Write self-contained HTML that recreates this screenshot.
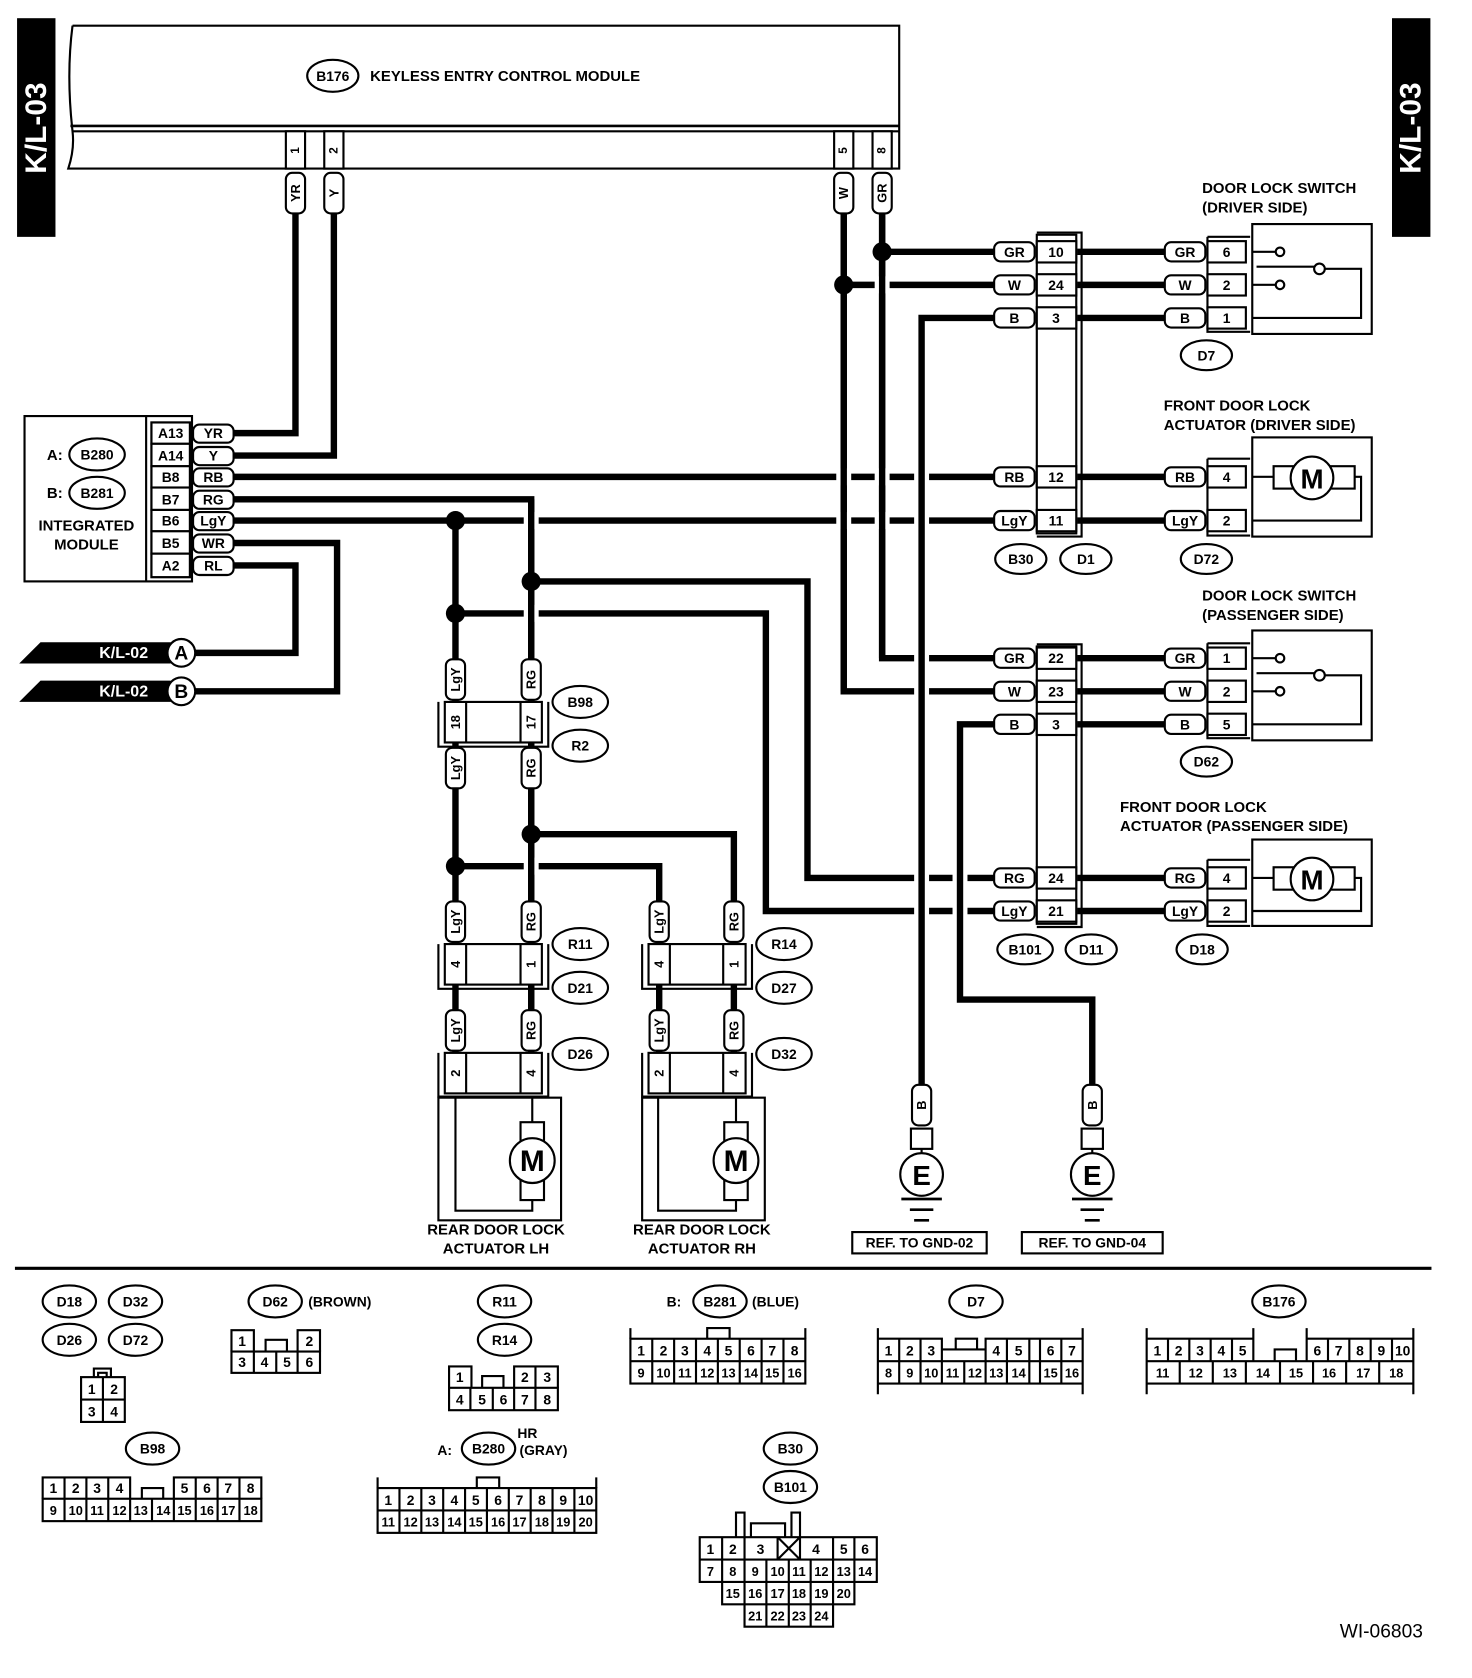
<!DOCTYPE html>
<html><head><meta charset="utf-8"><style>
html,body{margin:0;padding:0;background:#fff}
svg{display:block}
text{font-family:"Liberation Sans",Arial,sans-serif;font-weight:bold;fill:#000}
.w{stroke:#000;stroke-width:6;fill:none;stroke-linejoin:miter;stroke-linecap:butt}
.o{stroke:#000;stroke-width:2;fill:#fff}
.n{stroke:#000;stroke-width:2;fill:none}
.c{text-anchor:middle;dominant-baseline:central}
</style></head><body>
<svg width="1472" height="1678" viewBox="0 0 1380 1573" xmlns="http://www.w3.org/2000/svg">
<rect x="16" y="17" width="36" height="205" fill="#000"/>
<text class="c" transform="translate(34,120) rotate(-90)" font-size="28" style="fill:#fff">K/L-03</text>
<rect x="1305" y="17" width="36" height="205" fill="#000"/>
<text class="c" transform="translate(1323,120) rotate(-90)" font-size="28" style="fill:#fff">K/L-03</text>

<path class="n" d="M68 24 H843 V158 H64 Q70 140 68 123 Q62 70 68 24" stroke-width="2.5"/>
<line x1="66" y1="118" x2="843" y2="118" stroke="#000" stroke-width="2.5"/>
<line x1="68" y1="123" x2="843" y2="123" stroke="#000" stroke-width="2"/>
<rect class="o" x="268" y="123" width="18" height="35"/><text class="c" font-size="11" transform="translate(277,141) rotate(-90)">1</text>
<rect class="o" x="304" y="123" width="18" height="35"/><text class="c" font-size="11" transform="translate(313,141) rotate(-90)">2</text>
<rect class="o" x="782" y="123" width="18" height="35"/><text class="c" font-size="11" transform="translate(791,141) rotate(-90)">5</text>
<rect class="o" x="818" y="123" width="18" height="35"/><text class="c" font-size="11" transform="translate(827,141) rotate(-90)">8</text>
<ellipse class="o" cx="312" cy="71" rx="24" ry="15"/><text class="c" x="312" y="71" font-size="13">B176</text>
<text x="347" y="76" font-size="14">KEYLESS ENTRY CONTROL MODULE</text>

<rect class="n" x="23" y="390" width="157" height="155" stroke-width="2.5"/>
<line x1="137" y1="390" x2="137" y2="545" stroke="#000" stroke-width="2"/>
<rect class="n" x="142" y="396" width="36" height="145"/>
<ellipse class="o" cx="91" cy="426" rx="26" ry="15"/><text class="c" x="91" y="426" font-size="13">B280</text>
<text x="44" y="431" font-size="14">A:</text>
<ellipse class="o" cx="91" cy="462" rx="26" ry="15"/><text class="c" x="91" y="462" font-size="13">B281</text>
<text x="44" y="467" font-size="14">B:</text>
<text class="c" x="81" y="493" font-size="14">INTEGRATED</text>
<text class="c" x="81" y="511" font-size="14">MODULE</text>

<polygon points="38,602 160,602 160,622 18,622" fill="#000"/>
<text x="93" y="617" font-size="15" style="fill:#fff">K/L-02</text>
<circle class="o" cx="170" cy="612" r="13" stroke-width="2.5"/><text class="c" x="170" y="613" font-size="18">A</text>
<polygon points="38,638 160,638 160,658 18,658" fill="#000"/>
<text x="93" y="653" font-size="15" style="fill:#fff">K/L-02</text>
<circle class="o" cx="170" cy="648" r="13" stroke-width="2.5"/><text class="c" x="170" y="649" font-size="18">B</text>

<path class="w" d="M277 200 V406 H218"/>
<path class="w" d="M313 200 V427 H218"/>
<path class="w" d="M218 447 H932"/>
<path class="w" d="M218 468 H498 V1000"/>
<path class="w" d="M218 488 H932"/>
<path class="w" d="M218 509 H316 V648 H183"/>
<path class="w" d="M218 530 H277 V612 H183"/>
<path class="w" d="M498 545 H757 V823 H932"/>
<path class="w" d="M427 575 H718 V854 H932"/>
<path class="w" d="M827 236 H932"/>
<path class="w" d="M791 267 H932"/>
<path class="w" d="M827 200 V617 H932"/>
<path class="w" d="M791 200 V648 H932"/>
<path class="w" d="M498 782 H688 V1000"/>
<path class="w" d="M427 812 H618 V1000"/>
<path class="w" d="M1010 236 H1092 M1010 267 H1092 M1010 298 H1092 M1010 447 H1092 M1010 488 H1092"/>
<path class="w" d="M1010 617 H1092 M1010 648 H1092 M1010 679 H1092 M1010 823 H1092 M1010 854 H1092"/>
<g fill="#fff">
<rect x="491" y="480" width="14" height="16"/>
<rect x="784" y="439" width="14" height="16"/><rect x="820" y="439" width="14" height="16"/><rect x="857" y="439" width="14" height="16"/>
<rect x="784" y="480" width="14" height="16"/><rect x="820" y="480" width="14" height="16"/><rect x="857" y="480" width="14" height="16"/>
<rect x="491" y="567" width="14" height="16"/>
<rect x="491" y="804" width="14" height="16"/>
<rect x="820" y="259" width="14" height="16"/>
<rect x="857" y="609" width="14" height="16"/><rect x="857" y="640" width="14" height="16"/>
<rect x="857" y="815" width="14" height="16"/><rect x="893" y="815" width="14" height="16"/>
<rect x="857" y="846" width="14" height="16"/><rect x="893" y="846" width="14" height="16"/>
</g>
<path class="w" d="M427 488 V1000"/>
<path class="w" d="M498 468 V1000"/>
<path class="w" d="M791 200 V648"/>
<path class="w" d="M827 200 V617"/>
<path class="w" d="M932 298 H864 V1020"/>
<path class="w" d="M932 679 H900 V937 H1024 V1020"/>
<g fill="#000">
<circle cx="827" cy="236" r="9"/><circle cx="791" cy="267" r="9"/>
<circle cx="427" cy="488" r="9"/><circle cx="498" cy="545" r="9"/><circle cx="427" cy="575" r="9"/>
<circle cx="498" cy="782" r="9"/><circle cx="427" cy="812" r="9"/>
</g>

<g font-size="12">
<rect class="o" x="268" y="162" width="18" height="38" rx="6"/><text class="c" transform="translate(277,181) rotate(-90)">YR</text>
<rect class="o" x="304" y="162" width="18" height="38" rx="6"/><text class="c" transform="translate(313,181) rotate(-90)">Y</text>
<rect class="o" x="782" y="162" width="18" height="38" rx="6"/><text class="c" transform="translate(791,181) rotate(-90)">W</text>
<rect class="o" x="818" y="162" width="18" height="38" rx="6"/><text class="c" transform="translate(827,181) rotate(-90)">GR</text>
</g>

<g font-size="13">
<rect class="o" x="142" y="396" width="36" height="20"/><text class="c" x="160" y="406">A13</text>
<rect class="o" x="142" y="416" width="36" height="21"/><text class="c" x="160" y="427">A14</text>
<rect class="o" x="142" y="437" width="36" height="20"/><text class="c" x="160" y="447">B8</text>
<rect class="o" x="142" y="457" width="36" height="21"/><text class="c" x="160" y="468">B7</text>
<rect class="o" x="142" y="478" width="36" height="20"/><text class="c" x="160" y="488">B6</text>
<rect class="o" x="142" y="498" width="36" height="21"/><text class="c" x="160" y="509">B5</text>
<rect class="o" x="142" y="519" width="36" height="22"/><text class="c" x="160" y="530">A2</text>
<rect class="o" x="181" y="398" width="38" height="17" rx="6"/><text class="c" x="200" y="406">YR</text>
<rect class="o" x="181" y="419" width="38" height="17" rx="6"/><text class="c" x="200" y="427">Y</text>
<rect class="o" x="181" y="439" width="38" height="17" rx="6"/><text class="c" x="200" y="447">RB</text>
<rect class="o" x="181" y="460" width="38" height="17" rx="6"/><text class="c" x="200" y="468">RG</text>
<rect class="o" x="181" y="480" width="38" height="17" rx="6"/><text class="c" x="200" y="488">LgY</text>
<rect class="o" x="181" y="501" width="38" height="17" rx="6"/><text class="c" x="200" y="509">WR</text>
<rect class="o" x="181" y="522" width="38" height="17" rx="6"/><text class="c" x="200" y="530">RL</text>
</g>

<rect class="o" x="972" y="220" width="37" height="280"/>
<path class="n" d="M972 218 H1014 V503 H972"/>
<g font-size="13">
<rect class="o" x="972" y="226" width="37" height="20"/><text class="c" x="990" y="236">10</text>
<rect class="o" x="972" y="257" width="37" height="20"/><text class="c" x="990" y="267">24</text>
<rect class="o" x="972" y="288" width="37" height="20"/><text class="c" x="990" y="298">3</text>
<rect class="o" x="972" y="437" width="37" height="20"/><text class="c" x="990" y="447">12</text>
<rect class="o" x="972" y="478" width="37" height="20"/><text class="c" x="990" y="488">11</text>
<rect class="o" x="932" y="227" width="38" height="18" rx="6"/><text class="c" x="951" y="236">GR</text>
<rect class="o" x="932" y="258" width="38" height="18" rx="6"/><text class="c" x="951" y="267">W</text>
<rect class="o" x="932" y="289" width="38" height="18" rx="6"/><text class="c" x="951" y="298">B</text>
<rect class="o" x="932" y="438" width="38" height="18" rx="6"/><text class="c" x="951" y="447">RB</text>
<rect class="o" x="932" y="479" width="38" height="18" rx="6"/><text class="c" x="951" y="488">LgY</text>
<ellipse class="o" cx="957" cy="524" rx="24" ry="14"/><text class="c" x="957" y="524">B30</text>
<ellipse class="o" cx="1018" cy="524" rx="24" ry="14"/><text class="c" x="1018" y="524">D1</text>
</g>

<rect class="o" x="972" y="606" width="37" height="260"/>
<path class="n" d="M972 604 H1014 V869 H972"/>
<g font-size="13">
<rect class="o" x="972" y="607" width="37" height="20"/><text class="c" x="990" y="617">22</text>
<rect class="o" x="972" y="638" width="37" height="20"/><text class="c" x="990" y="648">23</text>
<rect class="o" x="972" y="669" width="37" height="20"/><text class="c" x="990" y="679">3</text>
<rect class="o" x="972" y="813" width="37" height="20"/><text class="c" x="990" y="823">24</text>
<rect class="o" x="972" y="844" width="37" height="20"/><text class="c" x="990" y="854">21</text>
<rect class="o" x="932" y="608" width="38" height="18" rx="6"/><text class="c" x="951" y="617">GR</text>
<rect class="o" x="932" y="639" width="38" height="18" rx="6"/><text class="c" x="951" y="648">W</text>
<rect class="o" x="932" y="670" width="38" height="18" rx="6"/><text class="c" x="951" y="679">B</text>
<rect class="o" x="932" y="814" width="38" height="18" rx="6"/><text class="c" x="951" y="823">RG</text>
<rect class="o" x="932" y="845" width="38" height="18" rx="6"/><text class="c" x="951" y="854">LgY</text>
<ellipse class="o" cx="961" cy="890" rx="26" ry="14"/><text class="c" x="961" y="890">B101</text>
<ellipse class="o" cx="1023" cy="890" rx="24" ry="14"/><text class="c" x="1023" y="890">D11</text>
</g>

<g font-size="13">
<path class="n" d="M1132 222 V311 H1172 M1132 222 H1172"/>
<rect class="o" x="1132" y="226" width="36" height="20"/><text class="c" x="1150" y="236">6</text>
<rect class="o" x="1132" y="257" width="36" height="20"/><text class="c" x="1150" y="267">2</text>
<rect class="o" x="1132" y="288" width="36" height="20"/><text class="c" x="1150" y="298">1</text>
<rect class="o" x="1092" y="227" width="38" height="18" rx="6"/><text class="c" x="1111" y="236">GR</text>
<rect class="o" x="1092" y="258" width="38" height="18" rx="6"/><text class="c" x="1111" y="267">W</text>
<rect class="o" x="1092" y="289" width="38" height="18" rx="6"/><text class="c" x="1111" y="298">B</text>
<rect class="n" x="1174" y="210" width="112" height="103"/>
<path class="n" d="M1174 236 H1196 M1174 267 H1196 M1178 250 H1232 M1242 252 H1276 V298 H1174"/>
<circle class="o" cx="1200" cy="236" r="4"/><circle class="o" cx="1200" cy="267" r="4"/><circle class="o" cx="1237" cy="252" r="5"/>
<ellipse class="o" cx="1131" cy="333" rx="24" ry="14"/><text class="c" x="1131" y="333">D7</text>
<text x="1127" y="181" font-size="14">DOOR LOCK SWITCH</text>
<text x="1127" y="199" font-size="14">(DRIVER SIDE)</text>

<path class="n" d="M1132 430 V502 H1172 M1132 430 H1172"/>
<rect class="o" x="1132" y="437" width="36" height="20"/><text class="c" x="1150" y="447">4</text>
<rect class="o" x="1132" y="478" width="36" height="20"/><text class="c" x="1150" y="488">2</text>
<rect class="o" x="1092" y="438" width="38" height="18" rx="6"/><text class="c" x="1111" y="447">RB</text>
<rect class="o" x="1092" y="479" width="38" height="18" rx="6"/><text class="c" x="1111" y="488">LgY</text>
<rect class="n" x="1174" y="410" width="112" height="93"/>
<path class="n" d="M1174 447 H1194 M1270 447 H1276 V488 H1174"/>
<rect class="o" x="1194" y="437" width="76" height="21"/>
<circle class="o" cx="1230" cy="448" r="20" stroke-width="2.5"/><text class="c" x="1230" y="449" font-size="26">M</text>
<ellipse class="o" cx="1131" cy="524" rx="24" ry="14"/><text class="c" x="1131" y="524">D72</text>
<text x="1091" y="385" font-size="14">FRONT DOOR LOCK</text>
<text x="1091" y="403" font-size="14">ACTUATOR (DRIVER SIDE)</text>

<path class="n" d="M1132 603 V692 H1172 M1132 603 H1172"/>
<rect class="o" x="1132" y="607" width="36" height="20"/><text class="c" x="1150" y="617">1</text>
<rect class="o" x="1132" y="638" width="36" height="20"/><text class="c" x="1150" y="648">2</text>
<rect class="o" x="1132" y="669" width="36" height="20"/><text class="c" x="1150" y="679">5</text>
<rect class="o" x="1092" y="608" width="38" height="18" rx="6"/><text class="c" x="1111" y="617">GR</text>
<rect class="o" x="1092" y="639" width="38" height="18" rx="6"/><text class="c" x="1111" y="648">W</text>
<rect class="o" x="1092" y="670" width="38" height="18" rx="6"/><text class="c" x="1111" y="679">B</text>
<rect class="n" x="1174" y="591" width="112" height="103"/>
<path class="n" d="M1174 617 H1196 M1174 648 H1196 M1178 631 H1232 M1242 633 H1276 V679 H1174"/>
<circle class="o" cx="1200" cy="617" r="4"/><circle class="o" cx="1200" cy="648" r="4"/><circle class="o" cx="1237" cy="633" r="5"/>
<ellipse class="o" cx="1131" cy="714" rx="24" ry="14"/><text class="c" x="1131" y="714">D62</text>
<text x="1127" y="563" font-size="14">DOOR LOCK SWITCH</text>
<text x="1127" y="581" font-size="14">(PASSENGER SIDE)</text>

<path class="n" d="M1132 806 V868 H1172 M1132 806 H1172"/>
<rect class="o" x="1132" y="813" width="36" height="20"/><text class="c" x="1150" y="823">4</text>
<rect class="o" x="1132" y="844" width="36" height="20"/><text class="c" x="1150" y="854">2</text>
<rect class="o" x="1092" y="814" width="38" height="18" rx="6"/><text class="c" x="1111" y="823">RG</text>
<rect class="o" x="1092" y="845" width="38" height="18" rx="6"/><text class="c" x="1111" y="854">LgY</text>
<rect class="n" x="1174" y="787" width="112" height="81"/>
<path class="n" d="M1174 823 H1194 M1270 823 H1276 V854 H1174"/>
<rect class="o" x="1194" y="813" width="76" height="21"/>
<circle class="o" cx="1230" cy="824" r="20" stroke-width="2.5"/><text class="c" x="1230" y="825" font-size="26">M</text>
<ellipse class="o" cx="1127" cy="890" rx="24" ry="14"/><text class="c" x="1127" y="890">D18</text>
<text x="1050" y="761" font-size="14">FRONT DOOR LOCK</text>
<text x="1050" y="779" font-size="14">ACTUATOR (PASSENGER SIDE)</text>
</g>

<g font-size="12">
<path class="n" d="M411 658 V700 H514 V658"/>
<rect class="o" x="417" y="658" width="91" height="38"/>
<line x1="437" y1="658" x2="437" y2="696" stroke="#000" stroke-width="2"/><line x1="488" y1="658" x2="488" y2="696" stroke="#000" stroke-width="2"/>
<text class="c" transform="translate(427,677) rotate(-90)">18</text><text class="c" transform="translate(498,677) rotate(-90)">17</text>
<rect class="o" x="418" y="618" width="18" height="38" rx="6"/><text class="c" transform="translate(427,637) rotate(-90)">LgY</text>
<rect class="o" x="489" y="618" width="18" height="38" rx="6"/><text class="c" transform="translate(498,637) rotate(-90)">RG</text>
<rect class="o" x="418" y="701" width="18" height="38" rx="6"/><text class="c" transform="translate(427,720) rotate(-90)">LgY</text>
<rect class="o" x="489" y="701" width="18" height="38" rx="6"/><text class="c" transform="translate(498,720) rotate(-90)">RG</text>
<path class="n" d="M411 885 V927 H514 V885"/>
<rect class="o" x="417" y="885" width="91" height="38"/>
<line x1="437" y1="885" x2="437" y2="923" stroke="#000" stroke-width="2"/><line x1="488" y1="885" x2="488" y2="923" stroke="#000" stroke-width="2"/>
<text class="c" transform="translate(427,904) rotate(-90)">4</text><text class="c" transform="translate(498,904) rotate(-90)">1</text>
<rect class="o" x="418" y="845" width="18" height="38" rx="6"/><text class="c" transform="translate(427,864) rotate(-90)">LgY</text>
<rect class="o" x="489" y="845" width="18" height="38" rx="6"/><text class="c" transform="translate(498,864) rotate(-90)">RG</text>
<rect class="o" x="418" y="947" width="18" height="38" rx="6"/><text class="c" transform="translate(427,966) rotate(-90)">LgY</text>
<rect class="o" x="489" y="947" width="18" height="38" rx="6"/><text class="c" transform="translate(498,966) rotate(-90)">RG</text>
<path class="n" d="M411 987 V1028 H514 V987"/>
<rect class="o" x="417" y="987" width="91" height="38"/>
<line x1="437" y1="987" x2="437" y2="1025" stroke="#000" stroke-width="2"/><line x1="488" y1="987" x2="488" y2="1025" stroke="#000" stroke-width="2"/>
<text class="c" transform="translate(427,1006) rotate(-90)">2</text><text class="c" transform="translate(498,1006) rotate(-90)">4</text>
<path class="n" d="M602 885 V927 H705 V885"/>
<rect class="o" x="608" y="885" width="91" height="38"/>
<line x1="628" y1="885" x2="628" y2="923" stroke="#000" stroke-width="2"/><line x1="678" y1="885" x2="678" y2="923" stroke="#000" stroke-width="2"/>
<text class="c" transform="translate(618,904) rotate(-90)">4</text><text class="c" transform="translate(688,904) rotate(-90)">1</text>
<rect class="o" x="609" y="845" width="18" height="38" rx="6"/><text class="c" transform="translate(618,864) rotate(-90)">LgY</text>
<rect class="o" x="679" y="845" width="18" height="38" rx="6"/><text class="c" transform="translate(688,864) rotate(-90)">RG</text>
<rect class="o" x="609" y="947" width="18" height="38" rx="6"/><text class="c" transform="translate(618,966) rotate(-90)">LgY</text>
<rect class="o" x="679" y="947" width="18" height="38" rx="6"/><text class="c" transform="translate(688,966) rotate(-90)">RG</text>
<path class="n" d="M602 987 V1028 H705 V987"/>
<rect class="o" x="608" y="987" width="91" height="38"/>
<line x1="628" y1="987" x2="628" y2="1025" stroke="#000" stroke-width="2"/><line x1="678" y1="987" x2="678" y2="1025" stroke="#000" stroke-width="2"/>
<text class="c" transform="translate(618,1006) rotate(-90)">2</text><text class="c" transform="translate(688,1006) rotate(-90)">4</text>
</g>
<g font-size="13">
<ellipse class="o" cx="544" cy="658" rx="26" ry="15"/><text class="c" x="544" y="658">B98</text>
<ellipse class="o" cx="544" cy="699" rx="26" ry="15"/><text class="c" x="544" y="699">R2</text>
<ellipse class="o" cx="544" cy="885" rx="26" ry="15"/><text class="c" x="544" y="885">R11</text>
<ellipse class="o" cx="544" cy="926" rx="26" ry="15"/><text class="c" x="544" y="926">D21</text>
<ellipse class="o" cx="544" cy="988" rx="26" ry="15"/><text class="c" x="544" y="988">D26</text>
<ellipse class="o" cx="735" cy="885" rx="26" ry="15"/><text class="c" x="735" y="885">R14</text>
<ellipse class="o" cx="735" cy="926" rx="26" ry="15"/><text class="c" x="735" y="926">D27</text>
<ellipse class="o" cx="735" cy="988" rx="26" ry="15"/><text class="c" x="735" y="988">D32</text>
</g>
<rect class="n" x="411" y="1029" width="115" height="115"/>
<path class="n" d="M427 1029 V1135 H499 V1125 M499 1052 V1029"/>
<rect class="o" x="488" y="1052" width="22" height="73"/>
<circle class="o" cx="499" cy="1088" r="21" stroke-width="2.5"/><text class="c" x="499" y="1089" font-size="28">M</text>
<rect class="n" x="602" y="1029" width="115" height="115"/>
<path class="n" d="M617 1029 V1135 H690 V1125 M690 1052 V1029"/>
<rect class="o" x="679" y="1052" width="22" height="73"/>
<circle class="o" cx="690" cy="1088" r="21" stroke-width="2.5"/><text class="c" x="690" y="1089" font-size="28">M</text>
<text class="c" x="465" y="1153" font-size="14">REAR DOOR LOCK</text>
<text class="c" x="465" y="1171" font-size="14">ACTUATOR LH</text>
<text class="c" x="658" y="1153" font-size="14">REAR DOOR LOCK</text>
<text class="c" x="658" y="1171" font-size="14">ACTUATOR RH</text>

<g>
<rect class="o" x="855" y="1017" width="18" height="38" rx="6"/><text class="c" font-size="12" transform="translate(864,1036) rotate(-90)">B</text>
<rect class="o" x="854" y="1058" width="20" height="19"/>
<path class="n" d="M864 1077 V1082"/>
<circle class="o" cx="864" cy="1101" r="20" stroke-width="2.5"/><text class="c" x="864" y="1102" font-size="26">E</text>
<path d="M845 1124 H883 M853 1134 H875 M857 1144 H871" stroke="#000" stroke-width="2.5"/>
<rect class="n" x="799" y="1155" width="126" height="20"/><text class="c" x="862" y="1165" font-size="13">REF. TO GND-02</text>
<rect class="o" x="1015" y="1017" width="18" height="38" rx="6"/><text class="c" font-size="12" transform="translate(1024,1036) rotate(-90)">B</text>
<rect class="o" x="1014" y="1058" width="20" height="19"/>
<path class="n" d="M1024 1077 V1082"/>
<circle class="o" cx="1024" cy="1101" r="20" stroke-width="2.5"/><text class="c" x="1024" y="1102" font-size="26">E</text>
<path d="M1005 1124 H1043 M1013 1134 H1035 M1017 1144 H1031" stroke="#000" stroke-width="2.5"/>
<rect class="n" x="958" y="1155" width="132" height="20"/><text class="c" x="1024" y="1165" font-size="13">REF. TO GND-04</text>
</g>

<line x1="14" y1="1189" x2="1342" y2="1189" stroke="#000" stroke-width="3"/>

<g font-size="13">
<ellipse class="o" cx="65" cy="1220" rx="25" ry="15"/><text class="c" x="65" y="1220">D18</text>
<ellipse class="o" cx="127" cy="1220" rx="25" ry="15"/><text class="c" x="127" y="1220">D32</text>
<ellipse class="o" cx="65" cy="1256" rx="25" ry="15"/><text class="c" x="65" y="1256">D26</text>
<ellipse class="o" cx="127" cy="1256" rx="25" ry="15"/><text class="c" x="127" y="1256">D72</text>
<ellipse class="o" cx="258" cy="1220" rx="25" ry="15"/><text class="c" x="258" y="1220">D62</text>
<text x="289" y="1225">(BROWN)</text>
<ellipse class="o" cx="473" cy="1220" rx="25" ry="15"/><text class="c" x="473" y="1220">R11</text>
<ellipse class="o" cx="473" cy="1256" rx="25" ry="15"/><text class="c" x="473" y="1256">R14</text>
<text x="625" y="1225">B:</text>
<ellipse class="o" cx="675" cy="1220" rx="25" ry="15"/><text class="c" x="675" y="1220">B281</text>
<text x="705" y="1225">(BLUE)</text>
<ellipse class="o" cx="915" cy="1220" rx="25" ry="15"/><text class="c" x="915" y="1220">D7</text>
<ellipse class="o" cx="1199" cy="1220" rx="25" ry="15"/><text class="c" x="1199" y="1220">B176</text>
<ellipse class="o" cx="143" cy="1358" rx="25" ry="15"/><text class="c" x="143" y="1358">B98</text>
<text x="410" y="1364">A:</text>
<ellipse class="o" cx="458" cy="1358" rx="25" ry="15"/><text class="c" x="458" y="1358">B280</text>
<text x="485" y="1348">HR</text>
<text x="487" y="1364">(GRAY)</text>
<ellipse class="o" cx="741" cy="1358" rx="25" ry="15"/><text class="c" x="741" y="1358">B30</text>
<ellipse class="o" cx="741" cy="1394" rx="25" ry="15"/><text class="c" x="741" y="1394">B101</text>
</g>

<g font-size="13" style="font-weight:normal">
<path class="n" d="M88 1291 V1283 H104 V1291 M92 1291 V1287 H100 V1291" stroke-width="1.5"/>
<rect class="n" x="76" y="1291" width="41" height="42" stroke-width="1.5"/>
<path class="n" d="M96.5 1291 V1333 M76 1312 H117" stroke-width="1.5"/>
<text class="c" x="86" y="1302">1</text><text class="c" x="107" y="1302">2</text><text class="c" x="86" y="1323">3</text><text class="c" x="107" y="1323">4</text>

<path class="n" d="M217 1267 V1247 H238 V1267 M279 1267 V1247 H300 V1267 M249 1267 V1256 H269 V1267 M238 1267 V1287 M259 1267 V1287 M279 1267 V1287" stroke-width="1.5"/>
<rect class="n" x="217" y="1267" width="83" height="20" stroke-width="1.5"/>
<text class="c" x="227" y="1257">1</text><text class="c" x="290" y="1257">2</text>
<text class="c" x="227" y="1277">3</text><text class="c" x="248" y="1277">4</text><text class="c" x="269" y="1277">5</text><text class="c" x="290" y="1277">6</text>

<path class="n" d="M421 1301 V1281 H442 V1301 M482 1301 V1281 H523 V1301 M502 1281 V1301 M452 1301 V1290 H472 V1301 M441 1301 V1322 M462 1301 V1322 M482 1301 V1322 M502 1301 V1322" stroke-width="1.5"/>
<rect class="n" x="421" y="1301" width="102" height="21" stroke-width="1.5"/>
<text class="c" x="431" y="1291">1</text><text class="c" x="492" y="1291">2</text><text class="c" x="513" y="1291">3</text>
<text class="c" x="431" y="1312">4</text><text class="c" x="452" y="1312">5</text><text class="c" x="472" y="1312">6</text><text class="c" x="492" y="1312">7</text><text class="c" x="513" y="1312">8</text>

<path class="n" d="M591 1255 V1245 M755 1255 V1245 M663 1255 V1245 H684 V1255 M591 1276 H755 M611.5 1255 V1297 M632 1255 V1297 M652.5 1255 V1297 M673 1255 V1297 M693.5 1255 V1297 M714 1255 V1297 M734.5 1255 V1297" stroke-width="1.5"/>
<rect class="n" x="591" y="1255" width="164" height="42" stroke-width="1.5"/>
<text class="c" x="601" y="1266">1</text><text class="c" x="622" y="1266">2</text><text class="c" x="642" y="1266">3</text><text class="c" x="663" y="1266">4</text><text class="c" x="683" y="1266">5</text><text class="c" x="704" y="1266">6</text><text class="c" x="724" y="1266">7</text><text class="c" x="745" y="1266">8</text>
<g font-size="12"><text class="c" x="601" y="1287">9</text><text class="c" x="622" y="1287">10</text><text class="c" x="642" y="1287">11</text><text class="c" x="663" y="1287">12</text><text class="c" x="683" y="1287">13</text><text class="c" x="704" y="1287">14</text><text class="c" x="724" y="1287">15</text><text class="c" x="745" y="1287">16</text></g>

<path class="n" d="M823 1245 V1307 M1015 1245 V1307 M823 1255 H883 V1265 H924 V1255 H1015 M896 1265 V1255 H916 V1265 M823 1297 H1015 M823 1276 H1015 M843 1255 V1297 M863 1255 V1297 M883 1265 V1297 M904 1276 V1297 M924 1255 V1297 M944 1255 V1297 M965 1255 V1297 M975 1255 V1297 M995 1255 V1297" stroke-width="1.5"/>
<text class="c" x="833" y="1266">1</text><text class="c" x="853" y="1266">2</text><text class="c" x="873" y="1266">3</text><text class="c" x="934" y="1266">4</text><text class="c" x="955" y="1266">5</text><text class="c" x="985" y="1266">6</text><text class="c" x="1005" y="1266">7</text>
<g font-size="12"><text class="c" x="833" y="1287">8</text><text class="c" x="853" y="1287">9</text><text class="c" x="873" y="1287">10</text><text class="c" x="893" y="1287">11</text><text class="c" x="914" y="1287">12</text><text class="c" x="934" y="1287">13</text><text class="c" x="955" y="1287">14</text><text class="c" x="985" y="1287">15</text><text class="c" x="1005" y="1287">16</text></g>

<path class="n" d="M1075 1245 V1307 M1325 1245 V1307 M1175 1245 V1255 M1225 1245 V1255 M1075 1255 H1175 V1276 M1225 1276 V1255 H1325 M1195 1276 V1265 H1215 V1276 M1075 1276 H1325 M1075 1297 H1325 M1095 1255 V1276 M1115 1255 V1276 M1135 1255 V1276 M1155 1255 V1276 M1245 1255 V1276 M1265 1255 V1276 M1285 1255 V1276 M1305 1255 V1276 M1106 1276 V1297 M1137 1276 V1297 M1168 1276 V1297 M1200 1276 V1297 M1231 1276 V1297 M1262 1276 V1297 M1293 1276 V1297" stroke-width="1.5"/>
<text class="c" x="1085" y="1266">1</text><text class="c" x="1105" y="1266">2</text><text class="c" x="1125" y="1266">3</text><text class="c" x="1145" y="1266">4</text><text class="c" x="1165" y="1266">5</text><text class="c" x="1235" y="1266">6</text><text class="c" x="1255" y="1266">7</text><text class="c" x="1275" y="1266">8</text><text class="c" x="1295" y="1266">9</text><text class="c" x="1315" y="1266">10</text>
<g font-size="12"><text class="c" x="1090" y="1287">11</text><text class="c" x="1121" y="1287">12</text><text class="c" x="1153" y="1287">13</text><text class="c" x="1184" y="1287">14</text><text class="c" x="1215" y="1287">15</text><text class="c" x="1246" y="1287">16</text><text class="c" x="1278" y="1287">17</text><text class="c" x="1309" y="1287">18</text></g>

<path class="n" d="M40 1405 V1385 H122 V1405 M163 1405 V1385 H245 V1405 M133 1405 V1395 H153 V1405 M60.5 1385 V1426 M81 1385 V1426 M101.5 1385 V1426 M122 1405 V1426 M142.5 1405 V1426 M163 1405 V1426 M183.5 1385 V1426 M204 1385 V1426 M224.5 1385 V1426" stroke-width="1.5"/>
<rect class="n" x="40" y="1405" width="205" height="21" stroke-width="1.5"/>
<text class="c" x="50" y="1395">1</text><text class="c" x="71" y="1395">2</text><text class="c" x="91" y="1395">3</text><text class="c" x="112" y="1395">4</text><text class="c" x="173" y="1395">5</text><text class="c" x="194" y="1395">6</text><text class="c" x="214" y="1395">7</text><text class="c" x="235" y="1395">8</text>
<g font-size="12"><text class="c" x="50" y="1416">9</text><text class="c" x="71" y="1416">10</text><text class="c" x="91" y="1416">11</text><text class="c" x="112" y="1416">12</text><text class="c" x="132" y="1416">13</text><text class="c" x="153" y="1416">14</text><text class="c" x="173" y="1416">15</text><text class="c" x="194" y="1416">16</text><text class="c" x="214" y="1416">17</text><text class="c" x="235" y="1416">18</text></g>

<path class="n" d="M354 1385 V1395 M559 1385 V1395 M447 1395 V1385 H468 V1395 M354 1416 H559 M374.5 1395 V1437 M395 1395 V1437 M415.5 1395 V1437 M436 1395 V1437 M456.5 1395 V1437 M477 1395 V1437 M497.5 1395 V1437 M518 1395 V1437 M538.5 1395 V1437" stroke-width="1.5"/>
<rect class="n" x="354" y="1395" width="205" height="42" stroke-width="1.5"/>
<text class="c" x="364" y="1406">1</text><text class="c" x="385" y="1406">2</text><text class="c" x="405" y="1406">3</text><text class="c" x="426" y="1406">4</text><text class="c" x="446" y="1406">5</text><text class="c" x="467" y="1406">6</text><text class="c" x="487" y="1406">7</text><text class="c" x="508" y="1406">8</text><text class="c" x="528" y="1406">9</text><text class="c" x="549" y="1406">10</text>
<g font-size="12"><text class="c" x="364" y="1427">11</text><text class="c" x="385" y="1427">12</text><text class="c" x="405" y="1427">13</text><text class="c" x="426" y="1427">14</text><text class="c" x="446" y="1427">15</text><text class="c" x="467" y="1427">16</text><text class="c" x="487" y="1427">17</text><text class="c" x="508" y="1427">18</text><text class="c" x="528" y="1427">19</text><text class="c" x="549" y="1427">20</text></g>

<path class="n" d="M690 1441 V1418 H698 V1441 M742 1441 V1418 H750 V1441 M704 1441 V1428 H736 V1441 M656 1441 H822 V1483 H801 V1504 H781 V1525 H698 V1504 H677 V1483 H656 Z M656 1462 H822 M677 1483 H801 M698 1504 H781 M677 1441 V1483 M698 1441 V1525 M718.5 1462 V1525 M729 1441 V1462 M750 1441 V1462 M739.5 1462 V1525 M760 1462 V1525 M781 1441 V1504 M801 1441 V1483 M729 1441 L750 1462 M750 1441 L729 1462" stroke-width="1.5"/>
<text class="c" x="666" y="1452">1</text><text class="c" x="687" y="1452">2</text><text class="c" x="713" y="1452">3</text><text class="c" x="765" y="1452">4</text><text class="c" x="791" y="1452">5</text><text class="c" x="811" y="1452">6</text>
<g font-size="12"><text class="c" x="666" y="1473">7</text><text class="c" x="687" y="1473">8</text><text class="c" x="708" y="1473">9</text><text class="c" x="729" y="1473">10</text><text class="c" x="749" y="1473">11</text><text class="c" x="770" y="1473">12</text><text class="c" x="791" y="1473">13</text><text class="c" x="811" y="1473">14</text>
<text class="c" x="687" y="1494">15</text><text class="c" x="708" y="1494">16</text><text class="c" x="729" y="1494">17</text><text class="c" x="749" y="1494">18</text><text class="c" x="770" y="1494">19</text><text class="c" x="791" y="1494">20</text>
<text class="c" x="708" y="1515">21</text><text class="c" x="729" y="1515">22</text><text class="c" x="749" y="1515">23</text><text class="c" x="770" y="1515">24</text></g>
</g>

<text x="1256" y="1535" font-size="18" style="font-weight:normal">WI-06803</text>
</svg>
</body></html>
